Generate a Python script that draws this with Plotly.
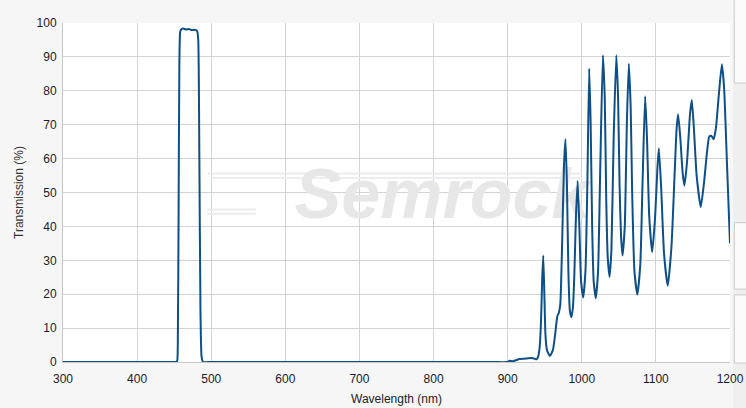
import plotly.graph_objects as go

# Wavelength (nm) and transmission (%)
wavelength = [300, 450, 452, 454, 455, 456, 457, 458, 459, 462, 466, 470, 474, 478, 481, 482.5,
              484, 485.5, 487, 489, 500, 880, 899, 903, 907, 911, 916, 925, 932, 936, 939, 941,
              943, 945, 946.5, 948, 949.5, 951, 953, 957, 961, 964, 967, 969, 971, 973.5, 976,
              978, 980, 982, 984, 986, 988, 990, 992, 994.5, 997, 999, 1002, 1005, 1007.5, 1010,
              1012, 1014, 1016, 1019, 1022, 1025, 1028.5, 1031, 1033, 1035, 1037.5, 1040, 1043,
              1046.6, 1049, 1051, 1053, 1055, 1058, 1061, 1063.5, 1066, 1068, 1071, 1075, 1079,
              1082, 1085.5, 1088, 1091, 1095, 1099, 1102, 1104, 1107, 1111, 1116, 1121, 1125,
              1128, 1130, 1133, 1136, 1138.5, 1142, 1146, 1148.4, 1151, 1155, 1160.6, 1165,
              1169, 1172, 1175, 1178, 1181, 1185, 1189, 1192, 1196, 1200]
transmission = [0, 0, 0, 0.3, 8, 45, 88, 97.2, 98.0, 98.4, 98.1, 98.2, 97.9, 98.0, 97.6, 95,
                60, 15, 1.5, 0, 0, 0, 0, 0.4, 0.2, 0.5, 0.9, 1.0, 1.2, 1.0, 0.8, 1.5,
                4, 12, 24, 31.4, 20, 8, 3.5, 1.8, 3.5, 8, 13.5, 14.5, 17, 35, 58,
                65.7, 52, 26, 15, 13.2, 16, 26, 42, 53.4, 38, 24, 19, 27, 52, 86.6,
                70, 40, 24, 18.8, 27, 58, 90.5, 78, 48, 31, 25.1, 33, 66,
                90.5, 78, 52, 37, 31.4, 40, 72, 88, 75, 50, 27, 19.9, 29,
                53, 78.4, 66, 43, 32.4, 43, 57, 63, 52, 32, 22.5, 34, 54,
                69, 73.1, 66, 56, 52, 59, 73, 77.3, 70, 55, 45.7, 53,
                62, 66.5, 66.7, 65.7, 69, 79, 87.8, 81, 58, 35]

x_ticks = [300, 400, 500, 600, 700, 800, 900, 1000, 1100, 1200]
y_ticks = [0, 10, 20, 30, 40, 50, 60, 70, 80, 90, 100]

fig = go.Figure()

# watermark (under the curve)
fig.add_trace(go.Scatter(
    x=[812], y=[47.5], mode="text", text=["<b><i>Semrock</i></b>"],
    textfont=dict(family="Liberation Sans", size=70, color="#e7e7e7"),
    textposition="middle center", hoverinfo="skip", showlegend=False))

fig.add_trace(go.Scatter(
    x=wavelength, y=transmission, mode="lines",
    line=dict(color="#0e4f86", width=2, shape="spline", smoothing=0.5),
    showlegend=False))

shapes = [
    # watermark swooshes
    dict(type="line", xref="x", yref="y", x0=495, x1=1000, y0=55.6, y1=55.6,
         line=dict(color="#ebebeb", width=2), layer="between"),
    dict(type="line", xref="x", yref="y", x0=500, x1=1000, y0=54.3, y1=54.3,
         line=dict(color="#eeebf2", width=2), layer="between"),
    dict(type="line", xref="x", yref="y", x0=495, x1=560, y0=45.0, y1=45.0,
         line=dict(color="#ebebeb", width=2), layer="between"),
    dict(type="line", xref="x", yref="y", x0=495, x1=560, y0=43.7, y1=43.7,
         line=dict(color="#ebebeb", width=2), layer="between"),
    # right-hand panel pieces
    dict(type="rect", xref="paper", yref="paper", x0=1.0045, x1=1.03, y0=-0.2, y1=1.1,
         fillcolor="#efefef", line=dict(width=0), layer="below"),
    dict(type="rect", xref="paper", yref="paper", x0=1.0065, x1=1.03, y0=0.823, y1=1.08,
         fillcolor="#fbfbfb", line=dict(color="#cccccc", width=1), layer="below"),
    dict(type="rect", xref="paper", yref="paper", x0=1.0065, x1=1.03, y0=0.215, y1=0.411,
         fillcolor="#fbfbfb", line=dict(color="#cccccc", width=1), layer="below"),
    dict(type="rect", xref="paper", yref="paper", x0=1.0065, x1=1.03, y0=-0.003, y1=0.198,
         fillcolor="#fbfbfb", line=dict(color="#cccccc", width=1), layer="below"),
]

fig.update_layout(
    width=746, height=408,
    margin=dict(l=63, r=16, t=23, b=46, autoexpand=False),
    paper_bgcolor="#f6f6f6", plot_bgcolor="#ffffff",
    font=dict(family="Liberation Sans", size=12, color="#1a1a1a"),
    shapes=shapes,
    xaxis=dict(range=[300, 1200], tickvals=x_ticks, ticktext=[str(v) for v in x_ticks],
               showgrid=True, gridcolor="#d3d3d3", gridwidth=1, zeroline=False,
               showline=True, linecolor="#c8c8c8", linewidth=1, ticks="",
               automargin=False, ticklabelstandoff=6,
               tickfont=dict(size=12, color="#1a1a2a"),
               title=dict(text="Wavelength (nm)", font=dict(size=12, color="#222222"), standoff=9)),
    yaxis=dict(range=[0, 100], tickvals=y_ticks, ticktext=[str(v) for v in y_ticks],
               showgrid=True, gridcolor="#d3d3d3", gridwidth=1, zeroline=False,
               showline=True, linecolor="#c8c8c8", linewidth=1, ticks="",
               automargin=False, ticklabelstandoff=3,
               tickfont=dict(size=12, color="#1a1a2a"),
               title=dict(text="Transmission (%)", font=dict(size=12, color="#333333"), standoff=10)),
)

fig.write_html("out.html", config={"displayModeBar": False},
               post_script="document.body.style.margin='0';document.body.style.overflow='hidden';")
